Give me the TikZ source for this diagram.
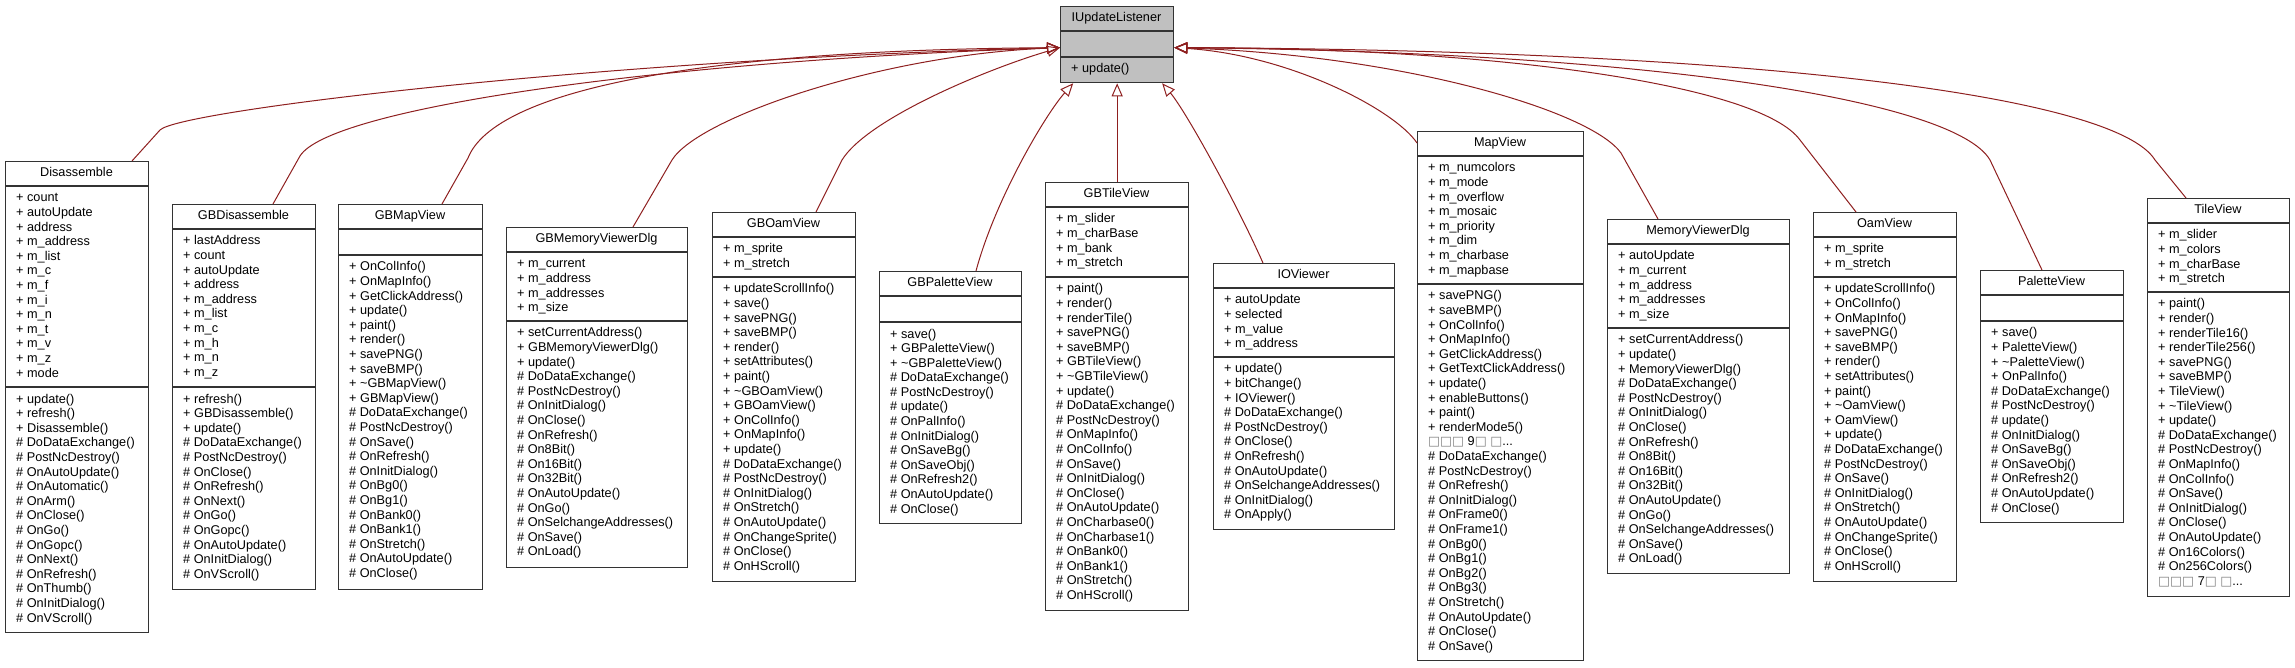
\documentclass[tikz,border=0pt]{standalone}
\usepackage{fontspec}
\setmainfont{Liberation Sans}
\newfontfamily\dejavu{DejaVu Sans}
\usetikzlibrary{arrows.meta}
\definecolor{EdgeRed}{HTML}{8E1F1F}
\definecolor{ListenerGray}{HTML}{C0C0C0}
\definecolor{BoxLine}{HTML}{333333}

\newcommand{\memberfont}{\fontsize{12.7}{14.6}\selectfont}
\newcommand{\memberlist}[1]{\begin{tabular}[t]{@{}l@{}}#1\end{tabular}}
\newcommand{\nogl}[1]{{\dejavu\color{gray}#1}}
% class box: name, x, y, width, divider, bottom, title, attributes, operations
\newcommand{\umlclass}[9]{%
  \node[classbox, minimum width=#4, minimum height={(#6-#3)*1pt}] (#1) at (#2,#3) {};
  \draw[divider] ([yshift=-25pt]#1.north west) -- ([yshift=-25pt]#1.north east);
  \draw[divider] (#2,#5) -- ++(#4,0);
  \node[classname] (#1-name) at (#2+#4/2,#3+16) {#7};
  \node[members] (#1-attrs) at (#2+11,#3+41) {\memberlist{#8}};
  \node[members] (#1-ops) at (#2+11,#5+16) {\memberlist{#9}};
}

\begin{document}
\begin{tikzpicture}[x=1pt, y=-1pt,
    classbox/.style={draw=BoxLine, line width=1.3pt, fill=white, anchor=north west, inner sep=0pt},
    divider/.style={draw=BoxLine, line width=1.3pt},
    classname/.style={anchor=base, inner sep=0pt, font=\memberfont},
    members/.style={anchor=base west, inner sep=0pt, font=\memberfont},
    inherit/.style={draw=EdgeRed, line width=1pt, -{Triangle[open, length=13pt, width=11pt]}}]
\useasboundingbox (0,0) rectangle (2295,668);

% Interface on top
\begin{scope}[classbox/.append style={fill=ListenerGray}]
\umlclass{iul}{1060}{6}{113}{57}{82}{IUpdateListener}{}{+ update()}
\end{scope}

% Left group
\umlclass{dis}{5}{161}{143}{387}{632}{Disassemble}
  {+ count\\+ autoUpdate\\+ address\\+ m\_address\\+ m\_list\\+ m\_c\\+ m\_f\\+ m\_i\\+ m\_n\\+ m\_t\\+ m\_v\\+ m\_z\\+ mode}
  {+ update()\\+ refresh()\\+ Disassemble()\\\# DoDataExchange()\\\# PostNcDestroy()\\\# OnAutoUpdate()\\\# OnAutomatic()\\\# OnArm()\\\# OnClose()\\\# OnGo()\\\# OnGopc()\\\# OnNext()\\\# OnRefresh()\\\# OnThumb()\\\# OnInitDialog()\\\# OnVScroll()}
\umlclass{gbdis}{172}{204}{143}{387}{589}{GBDisassemble}
  {+ lastAddress\\+ count\\+ autoUpdate\\+ address\\+ m\_address\\+ m\_list\\+ m\_c\\+ m\_h\\+ m\_n\\+ m\_z}
  {+ refresh()\\+ GBDisassemble()\\+ update()\\\# DoDataExchange()\\\# PostNcDestroy()\\\# OnClose()\\\# OnRefresh()\\\# OnNext()\\\# OnGo()\\\# OnGopc()\\\# OnAutoUpdate()\\\# OnInitDialog()\\\# OnVScroll()}
\umlclass{gbmap}{338}{204}{144}{255}{589}{GBMapView}{}
  {+ OnColInfo()\\+ OnMapInfo()\\+ GetClickAddress()\\+ update()\\+ paint()\\+ render()\\+ savePNG()\\+ saveBMP()\\+ \textasciitilde GBMapView()\\+ GBMapView()\\\# DoDataExchange()\\\# PostNcDestroy()\\\# OnSave()\\\# OnRefresh()\\\# OnInitDialog()\\\# OnBg0()\\\# OnBg1()\\\# OnBank0()\\\# OnBank1()\\\# OnStretch()\\\# OnAutoUpdate()\\\# OnClose()}
\umlclass{gbmem}{506}{227}{181}{321}{567}{GBMemoryViewerDlg}
  {+ m\_current\\+ m\_address\\+ m\_addresses\\+ m\_size}
  {+ setCurrentAddress()\\+ GBMemoryViewerDlg()\\+ update()\\\# DoDataExchange()\\\# PostNcDestroy()\\\# OnInitDialog()\\\# OnClose()\\\# OnRefresh()\\\# On8Bit()\\\# On16Bit()\\\# On32Bit()\\\# OnAutoUpdate()\\\# OnGo()\\\# OnSelchangeAddresses()\\\# OnSave()\\\# OnLoad()}
\umlclass{gboam}{712}{212}{143}{277}{581}{GBOamView}
  {+ m\_sprite\\+ m\_stretch}
  {+ updateScrollInfo()\\+ save()\\+ savePNG()\\+ saveBMP()\\+ render()\\+ setAttributes()\\+ paint()\\+ \textasciitilde GBOamView()\\+ GBOamView()\\+ OnColInfo()\\+ OnMapInfo()\\+ update()\\\# DoDataExchange()\\\# PostNcDestroy()\\\# OnInitDialog()\\\# OnStretch()\\\# OnAutoUpdate()\\\# OnChangeSprite()\\\# OnClose()\\\# OnHScroll()}
\umlclass{gbpal}{879}{271}{142}{322}{523}{GBPaletteView}{}
  {+ save()\\+ GBPaletteView()\\+ \textasciitilde GBPaletteView()\\\# DoDataExchange()\\\# PostNcDestroy()\\\# update()\\\# OnPalInfo()\\\# OnInitDialog()\\\# OnSaveBg()\\\# OnSaveObj()\\\# OnRefresh2()\\\# OnAutoUpdate()\\\# OnClose()}
\umlclass{gbtile}{1045}{182}{143}{277}{610}{GBTileView}
  {+ m\_slider\\+ m\_charBase\\+ m\_bank\\+ m\_stretch}
  {+ paint()\\+ render()\\+ renderTile()\\+ savePNG()\\+ saveBMP()\\+ GBTileView()\\+ \textasciitilde GBTileView()\\+ update()\\\# DoDataExchange()\\\# PostNcDestroy()\\\# OnMapInfo()\\\# OnColInfo()\\\# OnSave()\\\# OnInitDialog()\\\# OnClose()\\\# OnAutoUpdate()\\\# OnCharbase0()\\\# OnCharbase1()\\\# OnBank0()\\\# OnBank1()\\\# OnStretch()\\\# OnHScroll()}

% Right group
\umlclass{iov}{1213}{263}{181}{357}{529}{IOViewer}
  {+ autoUpdate\\+ selected\\+ m\_value\\+ m\_address}
  {+ update()\\+ bitChange()\\+ IOViewer()\\\# DoDataExchange()\\\# PostNcDestroy()\\\# OnClose()\\\# OnRefresh()\\\# OnAutoUpdate()\\\# OnSelchangeAddresses()\\\# OnInitDialog()\\\# OnApply()}
\umlclass{mapv}{1417}{131}{166}{284}{660}{MapView}
  {+ m\_numcolors\\+ m\_mode\\+ m\_overflow\\+ m\_mosaic\\+ m\_priority\\+ m\_dim\\+ m\_charbase\\+ m\_mapbase}
  {+ savePNG()\\+ saveBMP()\\+ OnColInfo()\\+ OnMapInfo()\\+ GetClickAddress()\\+ GetTextClickAddress()\\+ update()\\+ enableButtons()\\+ paint()\\+ renderMode5()\\\nogl{□□□} 9\nogl{□} \nogl{□}...\\\# DoDataExchange()\\\# PostNcDestroy()\\\# OnRefresh()\\\# OnInitDialog()\\\# OnFrame0()\\\# OnFrame1()\\\# OnBg0()\\\# OnBg1()\\\# OnBg2()\\\# OnBg3()\\\# OnStretch()\\\# OnAutoUpdate()\\\# OnClose()\\\# OnSave()}
\umlclass{memv}{1607}{219}{182}{328}{573}{MemoryViewerDlg}
  {+ autoUpdate\\+ m\_current\\+ m\_address\\+ m\_addresses\\+ m\_size}
  {+ setCurrentAddress()\\+ update()\\+ MemoryViewerDlg()\\\# DoDataExchange()\\\# PostNcDestroy()\\\# OnInitDialog()\\\# OnClose()\\\# OnRefresh()\\\# On8Bit()\\\# On16Bit()\\\# On32Bit()\\\# OnAutoUpdate()\\\# OnGo()\\\# OnSelchangeAddresses()\\\# OnSave()\\\# OnLoad()}
\umlclass{oamv}{1813}{212}{143}{277}{581}{OamView}
  {+ m\_sprite\\+ m\_stretch}
  {+ updateScrollInfo()\\+ OnColInfo()\\+ OnMapInfo()\\+ savePNG()\\+ saveBMP()\\+ render()\\+ setAttributes()\\+ paint()\\+ \textasciitilde OamView()\\+ OamView()\\+ update()\\\# DoDataExchange()\\\# PostNcDestroy()\\\# OnSave()\\\# OnInitDialog()\\\# OnStretch()\\\# OnAutoUpdate()\\\# OnChangeSprite()\\\# OnClose()\\\# OnHScroll()}
\umlclass{palv}{1980}{270}{143}{321}{522}{PaletteView}{}
  {+ save()\\+ PaletteView()\\+ \textasciitilde PaletteView()\\+ OnPalInfo()\\\# DoDataExchange()\\\# PostNcDestroy()\\\# update()\\\# OnInitDialog()\\\# OnSaveBg()\\\# OnSaveObj()\\\# OnRefresh2()\\\# OnAutoUpdate()\\\# OnClose()}
\umlclass{tilev}{2147}{198}{142}{292}{596}{TileView}
  {+ m\_slider\\+ m\_colors\\+ m\_charBase\\+ m\_stretch}
  {+ paint()\\+ render()\\+ renderTile16()\\+ renderTile256()\\+ savePNG()\\+ saveBMP()\\+ TileView()\\+ \textasciitilde TileView()\\+ update()\\\# DoDataExchange()\\\# PostNcDestroy()\\\# OnMapInfo()\\\# OnColInfo()\\\# OnSave()\\\# OnInitDialog()\\\# OnClose()\\\# OnAutoUpdate()\\\# On16Colors()\\\# On256Colors()\\\nogl{□□□} 7\nogl{□} \nogl{□}...}

% Inheritance arrows, left side
\draw[inherit] ([xshift=127pt]dis.north west) -- (160,130) .. controls (180,110) and (611,59) .. ([yshift=-3pt]iul.west);
\draw[inherit] ([xshift=101pt]gbdis.north west) -- (300,156) .. controls (330,108) and (661,61) .. ([yshift=-3pt]iul.west);
\draw[inherit] ([xshift=104pt]gbmap.north west) -- (468,158) .. controls (495,90) and (700,50) .. ([yshift=-3pt]iul.west);
\draw[inherit] ([xshift=127pt]gbmem.north west) -- (672,160) .. controls (698,118) and (880,55) .. ([yshift=-3pt]iul.west);
\draw[inherit] ([xshift=104pt]gboam.north west) -- (842,160) .. controls (868,118) and (990,68) .. ([yshift=-3pt]iul.west);
% bottom
\draw[inherit] ([xshift=97pt]gbpal.north west) .. controls (995,200) and (1045,115) .. ([xshift=-44pt]iul.south);
\draw[inherit] (gbtile.north) -- (iul.south);
\draw[inherit] ([xshift=50pt]iov.north west) .. controls (1235,200) and (1185,110) .. ([xshift=45pt]iul.south);
% right side
\draw[inherit] ([yshift=-12pt]mapv.north west) .. controls (1395,110) and (1290,55) .. ([yshift=-3pt]iul.east);
\draw[inherit] ([xshift=51pt]memv.north west) -- (1621,153) .. controls (1590,110) and (1400,55) .. ([yshift=-3pt]iul.east);
\draw[inherit] ([xshift=43pt]oamv.north west) -- (1800,140) .. controls (1760,85) and (1500,48) .. ([yshift=-3pt]iul.east);
\draw[inherit] ([xshift=62pt]palv.north west) -- (1990,160) .. controls (1955,100) and (1650,52) .. ([yshift=-3pt]iul.east);
\draw[inherit] ([xshift=39pt]tilev.north west) -- (2155,160) .. controls (2115,95) and (1750,50) .. ([yshift=-3pt]iul.east);
\end{tikzpicture}
\end{document}
